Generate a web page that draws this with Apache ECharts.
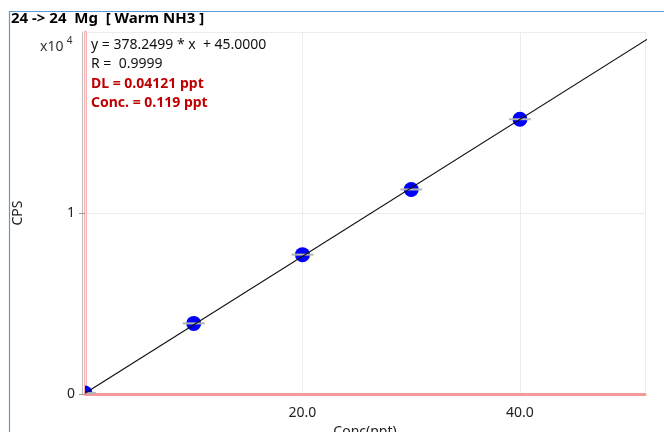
<!DOCTYPE html>
<html>
<head>
<meta charset="utf-8">
<script src="https://cdn.jsdelivr.net/npm/echarts@6/dist/echarts.min.js"></script>
<style>
  html, body { margin: 0; padding: 0; background: #fff; }
  #main { width: 664px; height: 432px; }
</style>
</head>
<body>
<div id="main"></div>
<script>
// calibration standards
var stdConc = [0, 10, 20, 30, 40];
var stdCps = [50, 3900, 7700, 11300, 15180];
// regression line end points
var fitConc = [0, 52];
var fitCps = [45, 19714];
var xTicks = [0, 20, 40];
var yTicks = [0, 10000, 20000];

var FONT = 'Noto Sans';
var chart = echarts.init(document.getElementById('main'));

var option = {
  animation: false,
  backgroundColor: '#fff',
  textStyle: { fontFamily: FONT },
  grid: { left: 85, right: 19, top: 32, bottom: 38, outerBoundsMode: 'none', containLabel: false },
  graphic: [
    {
      type: 'rect', left: 7, top: 9, z: -10,
      shape: { width: 700, height: 500 },
      style: { fill: 'none', stroke: '#5b9bd5', lineWidth: 1.2 }
    },
    {
      type: 'text', left: 11, top: 11,
      style: { text: '24 -> 24  Mg  [ Warm NH3 ]', font: 'bold 15px ' + FONT, fill: '#000' }
    },
    {
      type: 'text', left: 40, top: 36,
      style: {
        text: '{b|x10} {s|4}',
        rich: {
          b: { font: '14px ' + FONT, fill: '#333', verticalAlign: 'bottom', lineHeight: 18 },
          s: { font: '10px ' + FONT, fill: '#333', verticalAlign: 'top', lineHeight: 18 }
        }
      }
    },
    {
      type: 'text', left: 91, top: 38,
      style: {
        text: '{n|y = 378.2499 * x  + 45.0000}\n{n|R =  0.9999}\n{r|DL = 0.04121 ppt}\n{r|Conc. = 0.119 ppt}',
        rich: {
          n: { font: '14px ' + FONT, fill: '#111', lineHeight: 19.3 },
          r: { font: 'bold 14px ' + FONT, fill: '#c00000', lineHeight: 19.3 }
        }
      }
    }
  ],
  xAxis: [
    {
      type: 'value', min: 0, max: 51.5, interval: 20, z: 1,
      name: 'Conc(ppt)', nameLocation: 'middle', nameGap: 25,
      nameTextStyle: { fontSize: 14, color: '#222', fontFamily: FONT },
      axisLine: { show: true, onZero: false, lineStyle: { color: '#f59a9a', width: 3 } },
      axisTick: { show: false },
      axisLabel: {
        margin: 12, fontSize: 14, color: '#222', fontFamily: FONT, showMaxLabel: false,
        formatter: function (v) { return xTicks.indexOf(v) > 0 ? v.toFixed(1) : ''; }
      },
      splitLine: { show: true, lineStyle: { color: '#ececec', width: 1 } }
    },
    {
      type: 'value', position: 'top', min: 0, max: 51.5,
      axisLine: { show: true, lineStyle: { color: '#eeeeee', width: 1 } },
      axisTick: { show: false }, axisLabel: { show: false }, splitLine: { show: false }
    }
  ],
  yAxis: [
    {
      type: 'value', min: 0, max: 20000, interval: 10000,
      name: 'CPS', nameLocation: 'middle', nameGap: 60, nameRotate: 90,
      nameTextStyle: { fontSize: 14, color: '#222', fontFamily: FONT },
      axisLine: { show: true, onZero: false, lineStyle: { color: '#f7b3b3', width: 3 } },
      axisTick: { show: true, length: 6, lineStyle: { color: '#999' } },
      axisLabel: {
        margin: 10, fontSize: 14, color: '#222', fontFamily: FONT, showMaxLabel: false,
        formatter: function (v) { return yTicks.indexOf(v) >= 0 && v < 20000 ? String(v / 10000) : ''; }
      },
      splitLine: { show: true, lineStyle: { color: '#ececec', width: 1 } }
    },
    {
      type: 'value', min: 0, max: 20000, position: 'left', offset: 3,
      axisLine: { show: true, onZero: false, lineStyle: { color: '#bbbbbb', width: 1 } },
      axisTick: { show: false }, axisLabel: { show: false }, splitLine: { show: false }
    }
  ],
  series: [
    {
      type: 'custom',
      clip: true,
      z: 2,
      data: stdConc.map(function (c, i) { return [c, stdCps[i]]; }),
      renderItem: function (params, api) {
        var p = api.coord([api.value(0), api.value(1)]);
        return {
          type: 'group',
          children: [
            { type: 'circle', shape: { cx: p[0], cy: p[1], r: 7.5 }, style: { fill: '#0000ff' } },
            { type: 'line', shape: { x1: p[0] - 11, y1: p[1], x2: p[0] + 11, y2: p[1] },
              style: { stroke: '#b4b4b4', lineWidth: 2 } }
          ]
        };
      }
    },
    {
      type: 'line',
      z: 5,
      symbol: 'none',
      silent: true,
      clip: true,
      data: fitConc.map(function (c, i) { return [c, fitCps[i]]; }),
      lineStyle: { color: '#111', width: 1.2 }
    }
  ]
};
chart.setOption(option);
</script>
</body>
</html>
